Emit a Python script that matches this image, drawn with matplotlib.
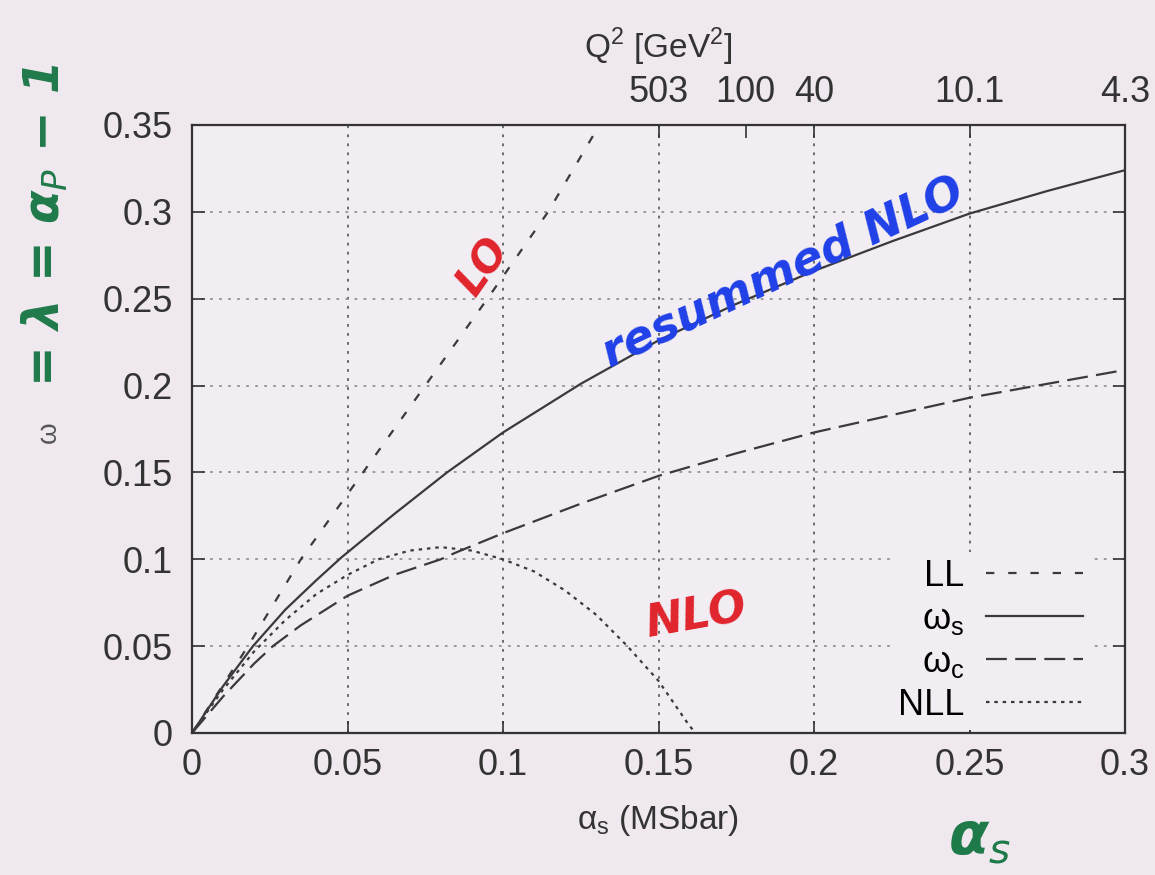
import matplotlib
matplotlib.use("Agg")
import matplotlib.pyplot as plt

plt.rcParams['font.family'] = ['Liberation Sans', 'DejaVu Sans']
plt.rcParams['lines.scale_dashes'] = False

# values
alpha_ll = [0.0, 0.018, 0.035, 0.055, 0.075, 0.095, 0.1145, 0.131]
omega_ll = [0.0, 0.050, 0.100, 0.150, 0.200, 0.250, 0.300, 0.350]

alpha_s = [0.0, 0.01, 0.0196, 0.03, 0.04, 0.048, 0.065, 0.082, 0.10, 0.125,
           0.15, 0.175, 0.20, 0.225, 0.25, 0.275, 0.30]
omega_s = [0.0, 0.027, 0.050, 0.071, 0.088, 0.101, 0.126, 0.150, 0.173, 0.201,
           0.226, 0.247, 0.266, 0.283, 0.299, 0.312, 0.324]

alpha_c = [0.0, 0.01, 0.02, 0.026, 0.035, 0.05, 0.065, 0.080, 0.085, 0.10, 0.125,
           0.15, 0.175, 0.20, 0.225, 0.25, 0.275, 0.30]
omega_c = [0.0, 0.021, 0.040, 0.050, 0.062, 0.079, 0.091, 0.100, 0.104, 0.115, 0.132,
           0.148, 0.161, 0.173, 0.183, 0.193, 0.201, 0.209]

alpha_nll = [0.0, 0.01, 0.02, 0.03, 0.04, 0.05, 0.06, 0.07, 0.08, 0.09,
             0.10, 0.11, 0.12, 0.13, 0.14, 0.15, 0.16, 0.162]
omega_nll = [0.0, 0.025, 0.047, 0.065, 0.080, 0.091, 0.100, 0.105, 0.107, 0.105,
             0.100, 0.093, 0.082, 0.068, 0.050, 0.030, 0.004, 0.0]

x_ticks = [0, 0.05, 0.1, 0.15, 0.2, 0.25, 0.3]
x_ticklabels = ['0', '0.05', '0.1', '0.15', '0.2', '0.25', '0.3']
y_ticks = [0, 0.05, 0.1, 0.15, 0.2, 0.25, 0.3, 0.35]
y_ticklabels = ['0', '0.05', '0.1', '0.15', '0.2', '0.25', '0.3', '0.35']
q2_positions = [0.15, 0.178, 0.2, 0.25, 0.3]
q2_labels = ['503', '100', '40', '10.1', '4.3']

bg = '#EFE8EF'
line_col = '#3a3a3a'
fs = 26

fig = plt.figure(figsize=(11.55, 8.75), dpi=100, facecolor=bg)
ax = fig.add_axes([192 / 1155, 1 - 733 / 875, 933 / 1155, 608 / 875])
ax.set_facecolor('#F2ECF3')

ax.plot(alpha_ll, omega_ll, color=line_col, lw=1.6, linestyle=(0, (6, 10)), label='LL')
ax.plot(alpha_s, omega_s, color=line_col, lw=1.6, linestyle='-', label='ω$_\\mathregular{s}$')
ax.plot(alpha_c, omega_c, color=line_col, lw=1.6, linestyle=(0, (15, 6)), label='ω$_\\mathregular{c}$')
ax.plot(alpha_nll, omega_nll, color=line_col, lw=1.6, linestyle=(0, (2.5, 3.5)), label='NLL')

ax.set_xlim(0, 0.3)
ax.set_ylim(0, 0.35)
ax.set_xticks(x_ticks)
ax.set_xticklabels(x_ticklabels)
ax.set_yticks(y_ticks)
ax.set_yticklabels(y_ticklabels)
ax.tick_params(direction='in', length=9, width=1.2, labelsize=fs, colors='#333333',
               top=False, right=True, pad=14)
ax.tick_params(axis='x', pad=11)

ax.xaxis.grid(True, color='#555555', linestyle=(0, (2, 4.5)), lw=1.2)
ax.yaxis.grid(True, color='#9a9a9a', linestyle=(0, (2, 4.5)), lw=1.4)
ax.set_axisbelow(True)
for sp in ax.spines.values():
    sp.set_color('#333333')
    sp.set_linewidth(1.6)

ax.set_xlabel('α$_\\mathregular{s}$ (MSbar)', fontsize=24, color='#333333', labelpad=14)
ax.set_ylabel('ω', fontsize=20, color='#555555', labelpad=0)
ax.yaxis.set_label_coords(-0.140, 0.495)

ax2 = ax.twiny()
ax2.set_xlim(0, 0.3)
ax2.set_xticks(q2_positions)
ax2.set_xticklabels(q2_labels)
ax2.tick_params(direction='in', length=9, width=1.2, labelsize=fs, colors='#333333', pad=11)
ax2.set_xlabel('Q$^\\mathregular{2}$ [GeV$^\\mathregular{2}$]', fontsize=24, color='#333333', labelpad=12)
for sp in ax2.spines.values():
    sp.set_visible(False)

# markerfirst=False puts the label left of the sample, right aligned (gnuplot style)
leg = ax.legend(loc='lower right', bbox_to_anchor=(0.963, 0.005), fontsize=fs,
                markerfirst=False, handlelength=2.7, handletextpad=0.6,
                labelspacing=0.22, borderpad=0.2, borderaxespad=0,
                frameon=True, fancybox=False)
leg.get_frame().set_facecolor('#F2ECF3')
leg.get_frame().set_edgecolor('none')
leg.get_frame().set_alpha(1)

# handwritten annotations
hand = dict(fontweight='heavy', fontstyle='italic', family='DejaVu Sans')
ax.text(0.0935, 0.268, 'LO', color='#E0242C', fontsize=30, rotation=55,
        ha='center', va='center', **hand)
ax.text(0.162, 0.067, 'NLO', color='#E0242C', fontsize=32, rotation=10,
        ha='center', va='center', **hand)
ax.text(0.190, 0.265, 'resummed NLO', color='#2040E8', fontsize=33, rotation=25,
        ha='center', va='center', **hand)
fig.text(45 / 1155, 1 - 225 / 875, '= λ = α$_P$ − 1', color='#1F7A4A', fontsize=35,
         rotation=90, ha='center', va='center', **hand)
fig.text(980 / 1155, 1 - 838 / 875, 'α$_s$', color='#1F7A4A', fontsize=42,
         ha='center', va='center', **hand)

fig.savefig('out.png', dpi=100, facecolor=bg)
